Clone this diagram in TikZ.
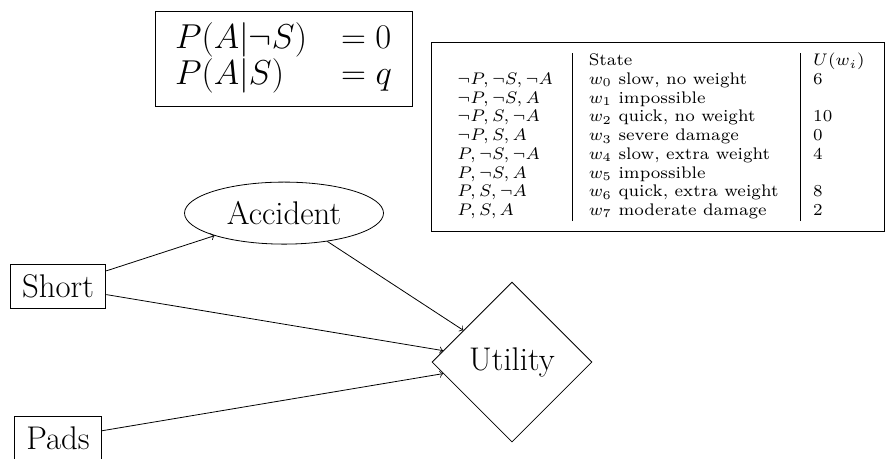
\documentclass[tikz,border=0pt]{standalone}
\usepackage{graphicx}
\usetikzlibrary{shapes.geometric}

\begin{document}
\begin{tikzpicture}[font=\fontsize{16.4}{19}\selectfont,
  var/.style={draw, inner xsep=6pt, inner ysep=5pt, minimum height=21.5pt},
  chance/.style={draw, ellipse, minimum width=3.497cm, minimum height=1.09cm},
  util/.style={draw, diamond, minimum width=2.811cm, minimum height=2.811cm, inner sep=0pt}]
  \useasboundingbox (0,0) rectangle (15.57,8.05);

  % probabilita' condizionate
  \node[draw, minimum width=4.516cm, minimum height=1.669cm,
        font=\fontsize{17.28}{19}\selectfont] (cpt) at (4.982,7.020)
    {\renewcommand{\arraystretch}{0.87}$\begin{array}{@{}l@{\hspace{17pt}}l@{}}
      P(A|\neg S) & = 0\\
      P(A|S)      & = q
    \end{array}$};

  % tabella degli stati
  \node[draw, anchor=north west, inner xsep=13pt, inner ysep=5.1pt,
        font=\fontsize{7}{7.8}\selectfont] (states) at (7.574,7.310)
    {\scalebox{1.2}{\begin{tabular}{@{}p{47.9pt}@{}|@{\hspace{6.67pt}}p{88.3pt}@{}|@{\hspace{5pt}}p{18.7pt}@{}}
      & State & $U(w_i)$\\
      $\neg P, \neg S, \neg A$ & $w_0$ slow, no weight    & 6\\
      $\neg P, \neg S, A$      & $w_1$ impossible         & \\
      $\neg P, S, \neg A$      & $w_2$ quick, no weight   & 10\\
      $\neg P, S, A$           & $w_3$ severe damage      & 0\\
      $P, \neg S, \neg A$      & $w_4$ slow, extra weight & 4\\
      $P, \neg S, A$           & $w_5$ impossible         & \\
      $P, S, \neg A$           & $w_6$ quick, extra weight & 8\\
      $P, S, A$                & $w_7$ moderate damage    & 2
    \end{tabular}}};

  \node[chance] (acc) at (4.991,4.305) {Accident};
  \node[var] (short) at (1.019,3.014) {Short};
  \node[var] (pads) at (1.019,0.351) {Pads};
  \node[util] (util) at (8.997,1.687) {Utility};

  \draw[->] (short) -- (acc);
  \draw[->] (short) -- (util);
  \draw[->] (pads) -- (util);
  \draw[->] (acc) -- (util);
\end{tikzpicture}
\end{document}
